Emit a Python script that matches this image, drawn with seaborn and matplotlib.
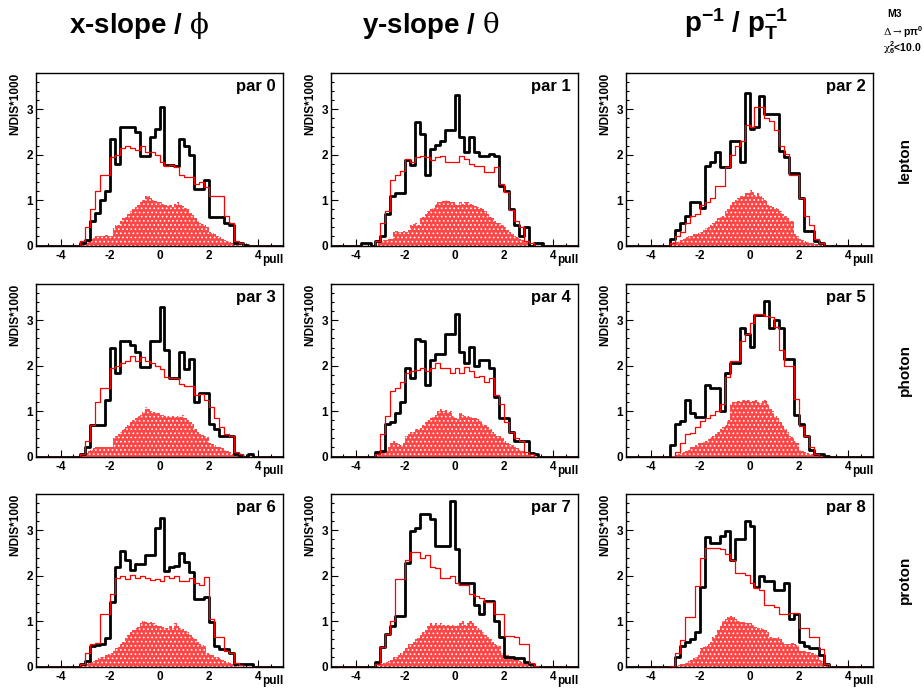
import numpy as np
import matplotlib
matplotlib.use("Agg")
import matplotlib.pyplot as plt
from matplotlib.ticker import MultipleLocator
import seaborn as sns

"""
pull distributions of the 3x3 fit parameters (lepton / photon / proton rows)
black: data, red line: MC, red hatched: MC subsample
"""

sns.set_style("white")
plt.rcParams["font.family"] = ["Liberation Sans", "DejaVu Sans"]
plt.rcParams["font.weight"] = "bold"
plt.rcParams["text.color"] = "black"
plt.rcParams["xtick.color"] = "black"
plt.rcParams["ytick.color"] = "black"
plt.rcParams["axes.labelcolor"] = "black"
plt.rcParams["axes.unicode_minus"] = False
plt.rcParams["mathtext.fontset"] = "custom"
plt.rcParams["mathtext.rm"] = "DejaVu Serif:weight=normal"
plt.rcParams["mathtext.it"] = "DejaVu Serif:italic:weight=normal"
plt.rcParams["mathtext.bf"] = "Liberation Sans:bold"
plt.rcParams["hatch.color"] = "white"
plt.rcParams["hatch.linewidth"] = 0.7

# 0.2 wide bins, left edges -4.0 ... 3.8 (40 values)
black_par0 = [0, 0, 0, 0, 0.05, 0.12, 0.55, 0.72, 1.0, 1.2,
              2.35, 1.8, 2.62, 2.62, 2.62, 2.5, 1.97, 1.97, 2.4, 2.57,
              3.05, 1.78, 1.78, 1.75, 2.35, 2.2, 2.0, 1.25, 1.25, 1.45,
              0.62, 0.62, 0.62, 0.5, 0.45, 0.05, 0.05, 0.02, 0, 0]
red_par0 = [0, 0, 0, 0, 0.1, 0.4, 0.8, 1.2, 1.55, 1.55,
            1.95, 2.0, 2.15, 2.2, 2.15, 2.1, 2.2, 2.05, 2.05, 2.0,
            1.85, 1.75, 1.78, 1.72, 1.55, 1.5, 1.5, 1.35, 1.4, 1.28,
            1.1, 1.1, 1.08, 0.65, 0.5, 0.1, 0.05, 0, 0, 0]
black_par1 = [0, 0.05, 0.05, 0, 0.1, 0.2, 0.7, 1.1, 1.15, 1.15,
              1.88, 1.77, 2.72, 2.45, 1.55, 2.12, 2.22, 2.3, 2.55, 2.55,
              3.32, 2.4, 2.07, 2.38, 2.05, 1.98, 1.98, 2.02, 1.98, 1.3,
              1.2, 0.8, 0.45, 0.22, 0.4, 0, 0.05, 0.05, 0, 0]
red_par1 = [0, 0, 0, 0, 0.1, 0.5, 0.75, 1.45, 1.55, 1.65,
            1.9, 1.85, 1.95, 1.97, 1.95, 1.88, 1.95, 1.98, 1.85, 1.85,
            1.85, 1.97, 1.9, 1.8, 1.75, 1.75, 1.62, 1.62, 1.72, 1.35,
            1.18, 0.78, 0.55, 0.4, 0.1, 0.05, 0, 0, 0, 0]
black_par2 = [0, 0, 0, 0, 0.15, 0.35, 0.5, 0.65, 0.95, 0.95,
              0.82, 1.75, 1.85, 2.05, 1.72, 1.72, 2.3, 2.3, 1.85, 3.35,
              2.57, 2.6, 3.3, 2.9, 2.9, 2.9, 2.08, 1.95, 1.6, 1.6,
              1.05, 0.32, 0.32, 0.1, 0.05, 0, 0, 0, 0, 0]
red_par2 = [0, 0, 0, 0, 0.05, 0.2, 0.3, 0.5, 0.65, 0.7,
            0.9, 0.95, 1.05, 1.3, 1.3, 1.72, 2.0, 2.2, 2.3, 2.65,
            2.6, 3.05, 3.05, 2.8, 2.75, 2.55, 2.2, 2.02, 1.55, 1.55,
            1.05, 0.65, 0.45, 0.15, 0.05, 0, 0, 0, 0, 0]
black_par3 = [0, 0, 0, 0, 0.05, 0.2, 0.7, 0.7, 0.7, 1.25,
              2.4, 1.85, 2.55, 2.55, 2.45, 2.3, 1.97, 1.97, 2.55, 2.55,
              3.3, 2.35, 1.72, 1.72, 2.3, 1.92, 2.15, 1.2, 1.4, 1.4,
              0.72, 0.6, 0.45, 0.45, 0.45, 0.05, 0.02, 0, 0.05, 0]
red_par3 = [0, 0, 0, 0, 0.05, 0.35, 0.7, 1.2, 1.5, 1.5,
            1.95, 2.0, 2.05, 2.1, 2.22, 2.1, 2.2, 2.1, 2.05, 2.0,
            1.92, 1.75, 1.72, 1.72, 1.6, 1.55, 1.55, 1.35, 1.38, 1.25,
            1.08, 0.85, 0.65, 0.5, 0.45, 0.1, 0.05, 0, 0, 0]
black_par4 = [0, 0, 0, 0, 0.1, 0.12, 0.72, 0.75, 0.95, 1.2,
              1.95, 1.72, 2.58, 2.55, 1.58, 2.12, 2.25, 2.25, 2.7, 2.7,
              3.15, 2.3, 2.05, 2.42, 2.0, 2.12, 2.12, 1.95, 1.32, 0.85,
              0.85, 0.55, 0.35, 0.35, 0.35, 0.08, 0.05, 0, 0, 0]
red_par4 = [0, 0, 0, 0, 0.05, 0.5, 0.9, 1.45, 1.5, 1.65,
            1.85, 1.88, 1.9, 1.95, 1.88, 1.95, 2.05, 1.95, 1.95, 1.85,
            1.95, 1.85, 1.97, 1.88, 1.75, 1.78, 1.65, 1.72, 1.35, 1.15,
            0.75, 0.55, 0.4, 0.35, 0.1, 0.05, 0, 0, 0, 0]
black_par5 = [0, 0, 0, 0, 0.25, 0.72, 0.78, 1.25, 0.95, 0.88,
              0.88, 1.58, 1.52, 1.52, 1.0, 1.85, 2.05, 2.05, 2.82, 2.7,
              2.42, 3.12, 3.12, 3.42, 2.82, 3.0, 2.82, 2.15, 2.15, 0.92,
              0.72, 0.45, 0.15, 0.05, 0.05, 0.02, 0, 0, 0, 0]
red_par5 = [0, 0, 0, 0, 0, 0.1, 0.3, 0.5, 0.52, 0.65,
            0.78, 0.85, 0.92, 1.0, 1.15, 1.75, 2.1, 2.1, 2.55, 2.7,
            2.95, 3.15, 3.15, 3.1, 3.07, 2.85, 2.34, 2.0, 2.0, 1.27,
            0.68, 0.46, 0.2, 0.05, 0, 0, 0, 0, 0, 0]
black_par6 = [0, 0, 0, 0, 0.05, 0.12, 0.45, 0.48, 0.5, 0.62,
              1.42, 2.2, 2.55, 2.35, 2.12, 2.25, 2.25, 2.45, 2.45, 3.05,
              3.28, 2.1, 2.2, 2.22, 2.5, 2.3, 2.08, 1.48, 1.48, 1.52,
              0.97, 0.45, 0.38, 0.38, 0.3, 0.05, 0.05, 0.05, 0.05, 0]
red_par6 = [0, 0, 0, 0, 0.05, 0.3, 0.5, 0.52, 1.15, 1.15,
            1.6, 1.95, 2.0, 1.92, 2.02, 1.95, 2.0, 1.95, 1.9, 1.92,
            1.88, 2.0, 1.95, 2.0, 1.88, 1.88, 1.95, 1.85, 1.8, 1.97,
            1.05, 0.65, 0.65, 0.35, 0.3, 0.08, 0.03, 0, 0, 0]
black_par7 = [0, 0, 0, 0, 0.1, 0.42, 0.72, 0.9, 1.12, 1.12,
              2.28, 2.98, 3.05, 3.35, 3.35, 3.25, 2.65, 2.65, 2.65, 3.65,
              2.58, 1.85, 1.85, 1.85, 1.35, 1.15, 1.45, 1.45, 1.0, 0.65,
              0.2, 0.2, 0.18, 0.18, 0.1, 0.05, 0, 0, 0, 0]
red_par7 = [0, 0, 0, 0, 0.05, 0.42, 0.72, 1.0, 1.92, 1.92,
            2.35, 2.52, 2.52, 2.4, 2.45, 2.2, 2.18, 1.95, 1.95, 2.0,
            1.85, 1.8, 1.8, 1.6, 1.55, 1.5, 1.42, 1.42, 1.15, 1.15,
            0.68, 0.68, 0.65, 0.5, 0.5, 0.08, 0.02, 0, 0, 0]
black_par8 = [0, 0, 0, 0, 0, 0.2, 0.45, 0.55, 0.6, 0.75,
              1.75, 2.85, 2.72, 2.72, 2.88, 2.98, 2.35, 2.8, 2.8, 3.2,
              3.1, 1.75, 2.0, 1.88, 1.88, 1.68, 1.68, 1.85, 1.05, 1.15,
              0.55, 0.45, 0.4, 0.4, 0.25, 0.05, 0, 0, 0, 0]
red_par8 = [0, 0, 0, 0, 0.02, 0.3, 0.58, 1.1, 1.1, 1.78,
            2.4, 2.6, 2.6, 2.62, 2.58, 2.48, 2.35, 2.05, 2.05, 2.02,
            1.85, 1.72, 1.68, 1.35, 1.35, 1.32, 1.15, 1.15, 1.18, 1.18,
            0.85, 0.85, 0.65, 0.65, 0.38, 0.05, 0, 0, 0, 0]

# 0.1 wide bins, left edges -3.2 ... 3.1 (64 values)
fill_par0 = [0.02, 0.05, 0.08, 0.12, 0.15, 0.18, 0.2, 0.22,
             0.22, 0.2, 0.23, 0.22, 0.2, 0.38, 0.45, 0.45,
             0.55, 0.6, 0.62, 0.7, 0.75, 0.8, 0.85, 0.9,
             0.95, 1.0, 1.1, 1.08, 1.05, 1.0, 0.98, 0.95,
             0.95, 0.92, 0.9, 0.88, 0.9, 0.85, 0.92, 0.95,
             0.9, 0.88, 0.82, 0.8, 0.72, 0.68, 0.6, 0.55,
             0.5, 0.48, 0.45, 0.4, 0.3, 0.28, 0.25, 0.2,
             0.18, 0.15, 0.12, 0.1, 0.08, 0.05, 0.03, 0.02]
fill_par1 = [0.02, 0.05, 0.1, 0.12, 0.12, 0.15, 0.15, 0.3,
             0.32, 0.3, 0.3, 0.32, 0.3, 0.35, 0.45, 0.48,
             0.5, 0.45, 0.6, 0.62, 0.7, 0.75, 0.8, 0.82,
             0.92, 0.95, 0.95, 0.98, 1.0, 0.98, 0.95, 0.95,
             0.92, 0.9, 0.95, 0.92, 0.95, 0.95, 0.92, 0.9,
             0.88, 0.85, 0.82, 0.8, 0.75, 0.7, 0.62, 0.6,
             0.55, 0.5, 0.5, 0.45, 0.4, 0.35, 0.3, 0.25,
             0.22, 0.18, 0.15, 0.12, 0.1, 0.08, 0.05, 0.02]
fill_par2 = [0.05, 0.08, 0.08, 0.1, 0.12, 0.15, 0.18, 0.2,
             0.22, 0.25, 0.25, 0.28, 0.3, 0.35, 0.38, 0.4,
             0.45, 0.5, 0.55, 0.6, 0.62, 0.65, 0.75, 0.8,
             0.9, 0.95, 1.0, 1.05, 1.1, 1.1, 1.15, 1.15,
             1.22, 1.18, 1.12, 1.15, 1.1, 1.05, 1.0, 0.9,
             0.88, 0.85, 0.82, 0.8, 0.75, 0.7, 0.65, 0.6,
             0.55, 0.55, 0.25, 0.2, 0.15, 0.12, 0.1, 0.08,
             0.06, 0.05, 0.04, 0.03, 0.02, 0.01, 0, 0]
fill_par3 = [0.02, 0.05, 0.08, 0.12, 0.15, 0.18, 0.2, 0.22,
             0.22, 0.2, 0.22, 0.2, 0.22, 0.4, 0.45, 0.5,
             0.55, 0.6, 0.65, 0.7, 0.75, 0.8, 0.85, 0.9,
             0.92, 0.98, 1.1, 1.05, 1.0, 0.98, 0.95, 0.95,
             0.92, 0.92, 0.9, 0.9, 0.88, 0.9, 0.88, 0.9,
             0.88, 0.92, 0.85, 0.8, 0.75, 0.72, 0.6, 0.55,
             0.5, 0.48, 0.45, 0.42, 0.3, 0.28, 0.25, 0.22,
             0.2, 0.18, 0.15, 0.12, 0.1, 0.06, 0.03, 0.02]
fill_par4 = [0.02, 0.05, 0.1, 0.12, 0.15, 0.2, 0.3, 0.35,
             0.3, 0.28, 0.25, 0.3, 0.45, 0.5, 0.55, 0.55,
             0.6, 0.6, 0.62, 0.7, 0.75, 0.8, 0.85, 0.88,
             0.92, 1.0, 1.05, 1.0, 1.02, 0.98, 1.0, 0.9,
             0.85, 0.82, 0.95, 0.92, 0.9, 0.9, 0.88, 0.85,
             0.85, 0.82, 0.78, 0.72, 0.7, 0.65, 0.6, 0.55,
             0.5, 0.45, 0.45, 0.4, 0.35, 0.3, 0.28, 0.25,
             0.2, 0.18, 0.15, 0.12, 0.1, 0.06, 0.03, 0.02]
fill_par5 = [0.01, 0.02, 0.05, 0.06, 0.08, 0.1, 0.12, 0.15,
             0.2, 0.22, 0.25, 0.3, 0.3, 0.32, 0.35, 0.38,
             0.42, 0.45, 0.5, 0.55, 0.6, 0.65, 0.7, 0.8,
             1.15, 1.2, 1.2, 1.22, 1.2, 1.25, 1.22, 1.25,
             1.2, 1.22, 1.25, 1.2, 1.18, 1.22, 1.25, 1.15,
             1.05, 1.0, 0.9, 0.85, 0.75, 0.7, 0.6, 0.55,
             0.45, 0.42, 0.35, 0.3, 0.15, 0.12, 0.1, 0.08,
             0.06, 0.05, 0.04, 0.03, 0.02, 0.01, 0, 0]
fill_par6 = [0.02, 0.05, 0.06, 0.08, 0.1, 0.12, 0.15, 0.18,
             0.2, 0.22, 0.25, 0.28, 0.3, 0.35, 0.4, 0.42,
             0.5, 0.55, 0.62, 0.7, 0.75, 0.8, 0.85, 0.88,
             0.95, 1.0, 0.98, 0.95, 0.98, 0.95, 0.92, 0.9,
             0.9, 0.88, 0.85, 0.85, 0.9, 0.85, 0.95, 0.9,
             0.85, 0.82, 0.78, 0.75, 0.7, 0.65, 0.6, 0.55,
             0.5, 0.48, 0.45, 0.3, 0.28, 0.25, 0.22, 0.2,
             0.18, 0.15, 0.12, 0.1, 0.08, 0.05, 0.03, 0.02]
fill_par7 = [0.02, 0.05, 0.06, 0.08, 0.1, 0.12, 0.15, 0.2,
             0.22, 0.25, 0.3, 0.35, 0.4, 0.5, 0.5, 0.55,
             0.6, 0.62, 0.7, 0.75, 0.8, 0.9, 0.95, 0.92,
             0.95, 0.92, 0.95, 0.92, 0.9, 0.92, 0.9, 0.92,
             0.9, 0.92, 0.95, 1.0, 0.92, 0.95, 1.0, 0.95,
             0.9, 0.85, 0.8, 0.75, 0.7, 0.65, 0.6, 0.55,
             0.5, 0.48, 0.45, 0.3, 0.28, 0.25, 0.22, 0.2,
             0.18, 0.15, 0.12, 0.1, 0.08, 0.06, 0.03, 0.02]
fill_par8 = [0, 0.01, 0.02, 0.03, 0.05, 0.06, 0.08, 0.12,
             0.15, 0.18, 0.2, 0.25, 0.4, 0.42, 0.45, 0.5,
             0.55, 0.65, 0.7, 0.8, 0.9, 1.0, 1.05, 1.1,
             1.12, 1.1, 1.05, 1.0, 0.98, 0.98, 0.95, 0.95,
             0.95, 0.92, 0.88, 0.85, 0.85, 0.82, 0.8, 0.75,
             0.65, 0.65, 0.62, 0.65, 0.6, 0.55, 0.5, 0.5,
             0.5, 0.52, 0.5, 0.48, 0.35, 0.35, 0.35, 0.33,
             0.32, 0.3, 0.28, 0.25, 0.15, 0.12, 0.05, 0.02]

black_all = [black_par0, black_par1, black_par2, black_par3, black_par4,
             black_par5, black_par6, black_par7, black_par8]
red_all = [red_par0, red_par1, red_par2, red_par3, red_par4,
           red_par5, red_par6, red_par7, red_par8]
fill_all = [fill_par0, fill_par1, fill_par2, fill_par3, fill_par4,
            fill_par5, fill_par6, fill_par7, fill_par8]

col_titles = [r"x-slope / $\mathrm{\phi}$", r"y-slope / $\mathrm{\theta}$",
              r"$\mathbf{p}^{\mathbf{-1}}$ / $\mathbf{p}_{\mathbf{T}}^{\mathbf{-1}}$"]
row_titles = ["lepton", "photon", "proton"]

# bins as plain lists (seaborn compares bins to "auto")
step_edges = list(np.linspace(-5, 5, 51))
step_centers = np.arange(40) * 0.2 - 4.0 + 0.1
fill_edges = list(np.linspace(-5, 5, 101))
fill_centers = np.arange(64) * 0.1 - 3.2 + 0.05

fig = plt.figure(figsize=(9.24, 6.9), dpi=100)
W, H = 924, 690
lefts = [36, 331, 626]
tops = [73, 284, 494]
aw, ah = 247, 172.5

for i in range(9):
    r, c = divmod(i, 3)
    ax = fig.add_axes([lefts[c] / W, 1 - (tops[r] + ah) / H, aw / W, ah / H])

    sns.histplot(x=fill_centers, weights=fill_all[i], bins=fill_edges,
                 element="step", fill=True, facecolor="#ff4545",
                 edgecolor="white", linewidth=0, hatch="....", ax=ax)
    sns.histplot(x=step_centers, weights=black_all[i], bins=step_edges,
                 element="step", fill=False, color="black", linewidth=2.0, ax=ax)
    sns.histplot(x=step_centers, weights=red_all[i], bins=step_edges,
                 element="step", fill=False, color="#ff0000", linewidth=0.9, ax=ax)

    ax.set_xlim(-5, 5)
    ax.set_ylim(0, 3.8)
    ax.set_xlabel("")
    ax.set_ylabel("")
    ax.set_xticks([-4, -2, 0, 2, 4])
    ax.set_yticks([0, 1, 2, 3])
    ax.xaxis.set_minor_locator(MultipleLocator(0.5))
    ax.yaxis.set_minor_locator(MultipleLocator(0.2))
    ax.tick_params(which="both", direction="in", top=False, right=False,
                   bottom=True, left=True, width=0.8, labelsize=8.5,
                   colors="black")
    ax.tick_params(which="major", length=5)
    ax.tick_params(which="minor", length=2.5)
    ax.tick_params(axis="y", pad=2)
    ax.tick_params(axis="x", pad=3)
    for lab in ax.get_xticklabels() + ax.get_yticklabels():
        lab.set_fontweight("bold")
    for sp in ax.spines.values():
        sp.set_visible(True)
        sp.set_color("black")
        sp.set_linewidth(1.0)

    ax.text(0.97, 0.965, f"par {i}", transform=ax.transAxes, ha="right",
            va="top", fontsize=12, fontweight="bold")
    ax.text(1.0, -0.05, "pull", transform=ax.transAxes, ha="right",
            va="top", fontsize=8.5, fontweight="bold")
    ax.text(-0.085, 1.0, "N/DIS*1000", transform=ax.transAxes, rotation=90,
            ha="center", va="top", fontsize=8.5, fontweight="bold")

title_x = [139, 431, 736]
for c in range(3):
    fig.text(title_x[c] / W, 1 - 33 / H, col_titles[c], ha="center",
             va="baseline", fontsize=20, fontweight="bold")

row_y = [160, 370, 580]
for r in range(3):
    fig.text(905 / W, 1 - row_y[r] / H, row_titles[r], rotation=90,
             ha="center", va="center", fontsize=11, fontweight="bold")

fig.text(895 / W, 1 - 14 / H, "M3", ha="center", va="center",
         fontsize=7.5, fontweight="bold")
fig.text(903 / W, 1 - 32 / H, r"$\mathrm{\Delta\rightarrow}$p$\mathbf{\pi}^{\mathbf{0}}$",
         ha="center", va="center", fontsize=7.5, fontweight="bold")
fig.text(902 / W, 1 - 48 / H, r"$\mathrm{\chi}^{\mathbf{2}}_{\mathbf{6}}$<10.0",
         ha="center", va="center", fontsize=7.5, fontweight="bold")

fig.savefig("out.png", dpi=100)
